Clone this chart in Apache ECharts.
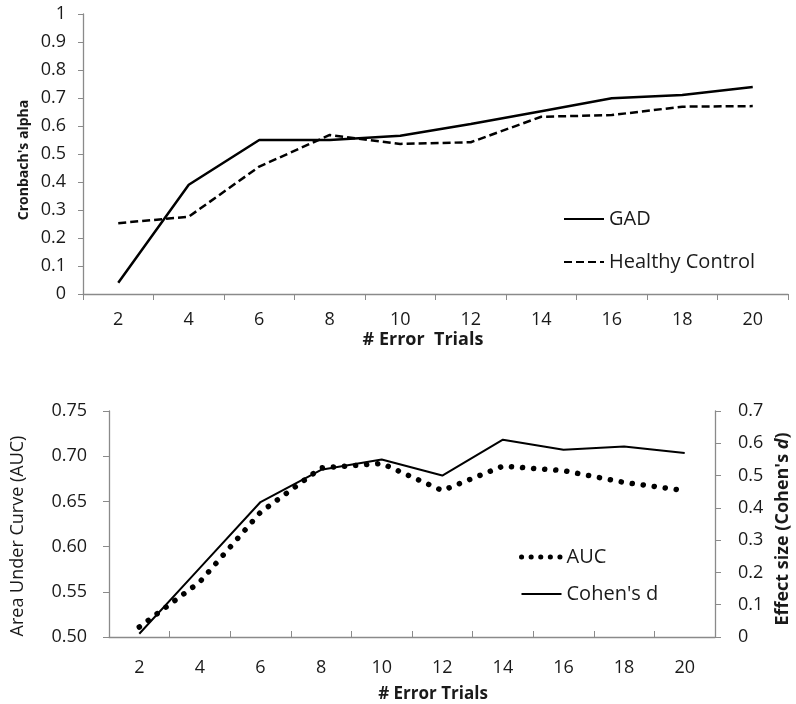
<!DOCTYPE html>
<html>
<head>
<meta charset="utf-8">
<title>Cronbach's alpha and AUC by number of error trials</title>
<script src="https://cdn.jsdelivr.net/npm/echarts@6/dist/echarts.min.js"></script>
<style>
  html, body { margin: 0; padding: 0; background: #fff; }
  #chart { width: 796px; height: 704px; }
</style>
</head>
<body>
<div id="chart"></div>
<script>
  // data
  var errorTrials = ['2', '4', '6', '8', '10', '12', '14', '16', '18', '20'];

  // top panel: Cronbach's alpha
  var gadAlpha = [0.04, 0.39, 0.55, 0.55, 0.565, 0.607, 0.653, 0.699, 0.711, 0.739];
  var controlAlpha = [0.253, 0.276, 0.455, 0.568, 0.536, 0.542, 0.633, 0.639, 0.669, 0.671];

  // bottom panel: AUC (left axis) and Cohen's d (right axis)
  var aucValues = [0.511, 0.561, 0.638, 0.687, 0.692, 0.662, 0.689, 0.684, 0.671, 0.662];
  var cohensD = [0.010, 0.214, 0.418, 0.518, 0.550, 0.500, 0.611, 0.580, 0.590, 0.570];

  var FONT = '"Open Sans", "Liberation Sans", sans-serif';
  var TEXT = '#1a1a1a';
  var AXIS = '#8a8a8a';

  var axisLine = { show: true, lineStyle: { color: AXIS, width: 1.3 } };

  var chart = echarts.init(document.getElementById('chart'), null, { renderer: 'canvas' });

  var option = {
    backgroundColor: '#fff',
    animation: false,
    grid: [
      { left: 83, top: 14, width: 705, height: 280 },
      { left: 109, top: 411, width: 606, height: 226 }
    ],
    legend: [
      {
        orient: 'vertical', left: 558, top: 204,
        itemWidth: 40, itemHeight: 14, itemGap: 23,
        itemStyle: { opacity: 0 },
        textStyle: { fontFamily: FONT, fontSize: 20, color: TEXT },
        data: ['GAD', 'Healthy Control']
      },
      {
        orient: 'vertical', left: 514, top: 542,
        itemWidth: 40, itemHeight: 14, itemGap: 17,
        itemStyle: { opacity: 0 },
        textStyle: { fontFamily: FONT, fontSize: 20, color: TEXT },
        data: [
          { name: 'AUC', lineStyle: { width: 5, type: [0.1, 9.5], cap: 'round' } },
          "Cohen's d"
        ]
      }
    ],
    xAxis: [
      {
        type: 'category', gridIndex: 0, data: errorTrials, boundaryGap: true,
        axisLine: axisLine,
        axisTick: { show: true, inside: false, length: 6, lineStyle: { color: AXIS } },
        axisLabel: { margin: 17, fontFamily: FONT, fontSize: 18, color: TEXT },
        splitLine: { show: false }
      },
      {
        type: 'category', gridIndex: 1, data: errorTrials, boundaryGap: true,
        axisLine: axisLine,
        axisTick: { show: true, inside: true, length: 6, lineStyle: { color: AXIS } },
        axisLabel: { margin: 22, fontFamily: FONT, fontSize: 18, color: TEXT },
        splitLine: { show: false }
      }
    ],
    yAxis: [
      {
        type: 'value', gridIndex: 0, min: 0, max: 1, interval: 0.1,
        axisLine: axisLine,
        axisTick: { show: true, length: 5, lineStyle: { color: AXIS } },
        axisLabel: { margin: 17, fontFamily: FONT, fontSize: 18, color: TEXT },
        splitLine: { show: false }
      },
      {
        type: 'value', gridIndex: 1, min: 0.5, max: 0.75, interval: 0.05,
        axisLine: axisLine,
        axisTick: { show: true, length: 6, lineStyle: { color: AXIS } },
        axisLabel: {
          margin: 22, fontFamily: FONT, fontSize: 18, color: TEXT,
          formatter: function (v) { return v.toFixed(2); }
        },
        splitLine: { show: false }
      },
      {
        type: 'value', gridIndex: 1, position: 'right', min: 0, max: 0.7, interval: 0.1,
        axisLine: axisLine,
        axisTick: { show: true, length: 6, lineStyle: { color: AXIS } },
        axisLabel: {
          margin: 23, fontFamily: FONT, fontSize: 18, color: TEXT,
          formatter: function (v) { return String(+v.toFixed(1)); }
        },
        splitLine: { show: false }
      }
    ],
    series: [
      {
        name: 'GAD', type: 'line', xAxisIndex: 0, yAxisIndex: 0,
        data: gadAlpha, symbol: 'none', color: '#000',
        lineStyle: { color: '#000', width: 2.5, type: 'solid' }
      },
      {
        name: 'Healthy Control', type: 'line', xAxisIndex: 0, yAxisIndex: 0,
        data: controlAlpha, symbol: 'none', color: '#000',
        lineStyle: { color: '#000', width: 2.5, type: [8, 4] }
      },
      {
        name: 'AUC', type: 'line', xAxisIndex: 1, yAxisIndex: 1,
        data: aucValues, symbol: 'none', color: '#000',
        lineStyle: { color: '#000', width: 5.5, type: [0.1, 11], cap: 'round' }
      },
      {
        name: "Cohen's d", type: 'line', xAxisIndex: 1, yAxisIndex: 2,
        data: cohensD, symbol: 'none', color: '#000',
        lineStyle: { color: '#000', width: 2, type: 'solid' }
      }
    ],
    // axis titles
    graphic: [
      {
        type: 'text', x: 24, y: 160, rotation: Math.PI / 2,
        style: {
          text: "Cronbach's alpha", x: 0, y: 0, align: 'center', verticalAlign: 'middle',
          fontFamily: FONT, fontSize: 14, fontWeight: 'bold', fill: TEXT
        }
      },
      {
        type: 'text', x: 423, y: 340,
        style: {
          text: '# Error  Trials', x: 0, y: 0, align: 'center', verticalAlign: 'middle',
          fontFamily: FONT, fontSize: 18, fontWeight: 'bold', fill: TEXT
        }
      },
      {
        type: 'text', x: 18, y: 536, rotation: Math.PI / 2,
        style: {
          text: 'Area Under Curve (AUC)', x: 0, y: 0, align: 'center', verticalAlign: 'middle',
          fontFamily: FONT, fontSize: 18, fill: TEXT
        }
      },
      {
        type: 'text', x: 783, y: 529, rotation: Math.PI / 2,
        style: {
          text: "Effect size (Cohen's {i|d})", x: 0, y: 0, align: 'center', verticalAlign: 'middle',
          fontFamily: FONT, fontSize: 18, fontWeight: 'bold', fill: TEXT,
          rich: { i: { fontFamily: FONT, fontSize: 18, fontWeight: 'bold', fontStyle: 'italic', fill: TEXT } }
        }
      },
      {
        type: 'text', x: 433, y: 694,
        style: {
          text: '# Error Trials', x: 0, y: 0, align: 'center', verticalAlign: 'middle',
          fontFamily: FONT, fontSize: 17, fontWeight: 'bold', fill: TEXT
        }
      }
    ]
  };

  chart.setOption(option);
</script>
</body>
</html>
